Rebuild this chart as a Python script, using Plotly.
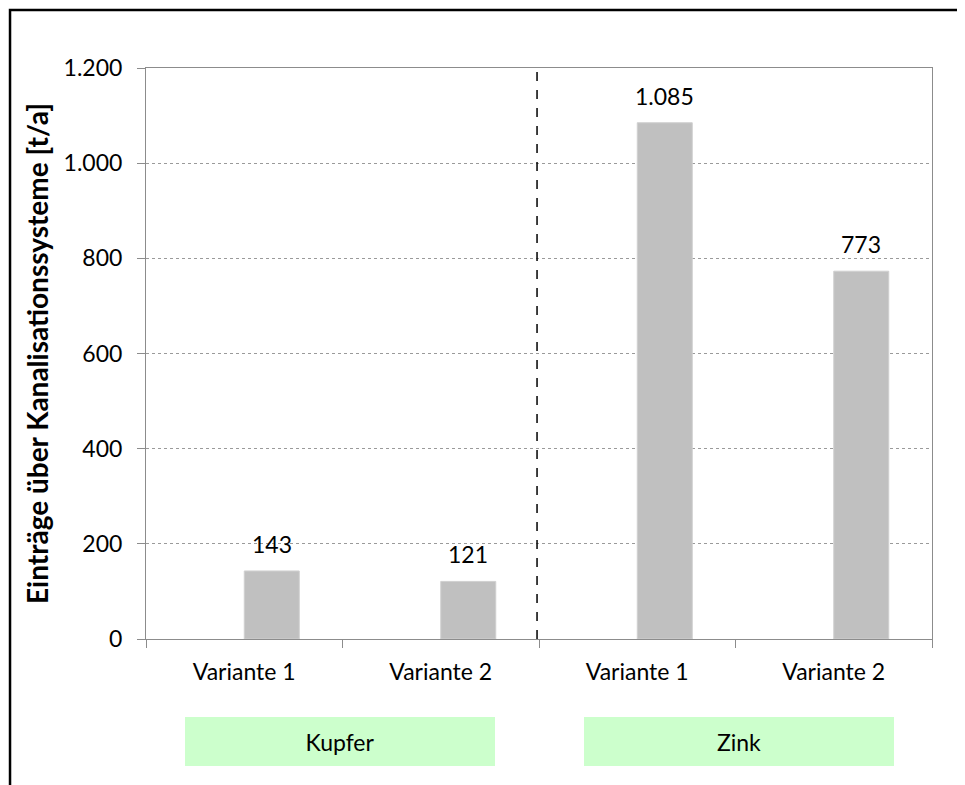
import plotly.graph_objects as go

# values
varianten = ["Variante 1", "Variante 2", "Variante 1", "Variante 2"]
metalle = ["Kupfer", "Zink"]
eintraege = [143, 121, 1085, 773]
y_ticks = [0, 200, 400, 600, 800, 1000, 1200]

FONT = "Lato"
GRAU = "#8c8c8c"
BAR_W = 0.28

x_pos = list(range(len(varianten)))

fig = go.Figure()
fig.add_trace(go.Bar(
    x=x_pos, y=eintraege, width=BAR_W, offset=0,
    marker=dict(color="#c0c0c0", line=dict(color="#d0d0d0", width=1)),
    showlegend=False, hoverinfo="skip",
))

# value labels above the bars
for xi, v in zip(x_pos, eintraege):
    fig.add_annotation(
        x=xi + BAR_W / 2, y=v, xref="x", yref="y",
        text=f"{v:,}".replace(",", "."), showarrow=False,
        yanchor="bottom", yshift=11,
        font=dict(family=FONT, size=23, color="black"),
    )

fig.update_xaxes(
    range=[-0.5, 3.5], tickmode="array", tickvals=x_pos, ticktext=varianten,
    ticks="", showgrid=False, zeroline=False,
    showline=True, linecolor=GRAU, linewidth=1, mirror=True,
    tickfont=dict(family=FONT, size=23, color="black"),
    ticklabelstandoff=12,
    minor=dict(tickmode="array", tickvals=[-0.5, 0.5, 1.5, 2.5, 3.5],
               ticks="outside", ticklen=8, tickcolor=GRAU, tickwidth=1, showgrid=False),
)
fig.update_yaxes(
    range=[0, 1200], tickmode="array", tickvals=y_ticks, tickformat=",d",
    ticks="outside", ticklen=8, tickcolor=GRAU,
    showgrid=True, gridcolor="#9a9a9a", gridwidth=1, griddash="dot",
    zeroline=False, showline=True, linecolor=GRAU, linewidth=1, mirror=True,
    tickfont=dict(family=FONT, size=23, color="black"),
    ticklabelstandoff=10,
    title=dict(text="<b>Einträge über Kanalisationssysteme [t/a]</b>",
               font=dict(family=FONT, size=28, color="black"), standoff=6),
)

# dashed separator between the two metals
fig.add_shape(type="line", xref="x", yref="paper", x0=1.49, x1=1.49, y0=0, y1=1,
              line=dict(color="black", width=1.5, dash="dash"))

# outer frame of the chart (cut off on the right and at the bottom)
fig.add_shape(type="rect", xref="paper", yref="paper",
              x0=-0.173, x1=1.2, y0=-0.5, y1=1.1016,
              line=dict(color="black", width=2.5), layer="below")

# green group boxes
for i, name in enumerate(metalle):
    fig.add_annotation(
        x=2 * i + 0.5, y=-0.1795, xref="x", yref="paper",
        xshift=-3 if i == 0 else 3,
        text=name, showarrow=False, width=310, height=49,
        bgcolor="#ccffcc", borderpad=0, borderwidth=0,
        xanchor="center", yanchor="middle",
        font=dict(family=FONT, size=23, color="black"),
    )

# the page puts the figure 8px in from the top left corner
fig.update_layout(
    width=957, height=777,
    margin=dict(l=138, r=33, t=60, b=146, autoexpand=False),
    paper_bgcolor="white", plot_bgcolor="white",
    separators=",.",
    font=dict(family=FONT, size=23, color="black"),
)

fig.write_html("out.html")
